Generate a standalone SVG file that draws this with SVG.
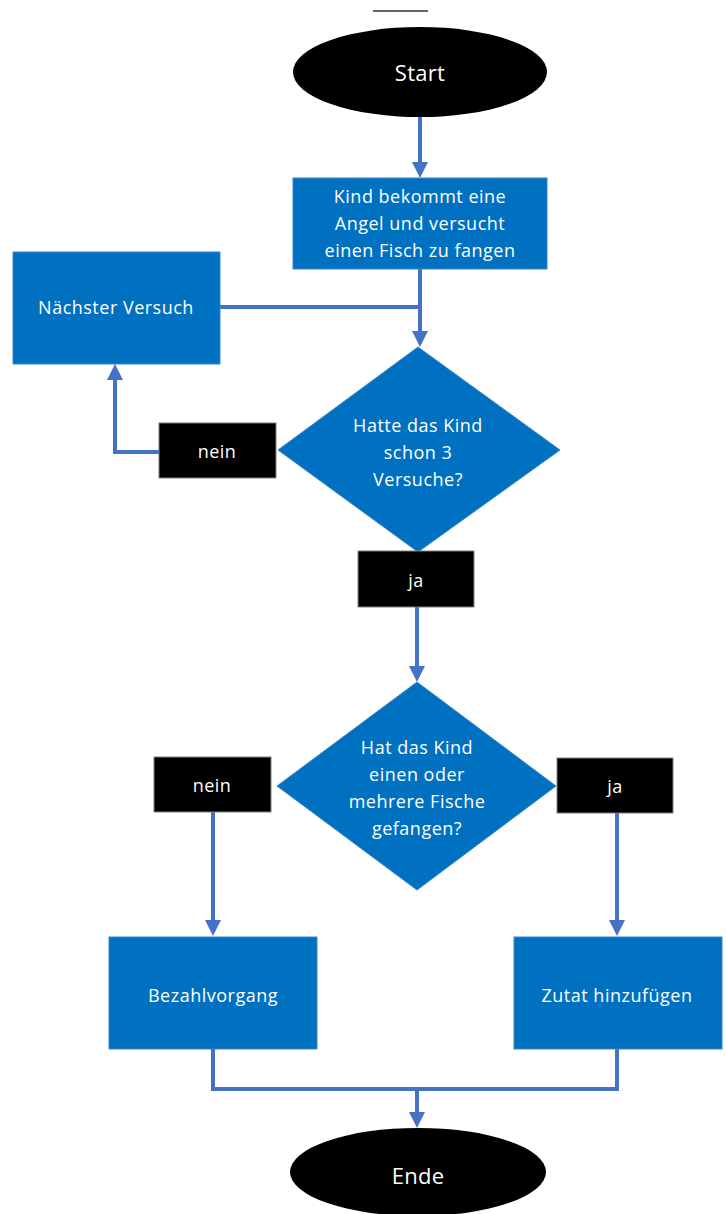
<svg xmlns="http://www.w3.org/2000/svg" width="726" height="1214" viewBox="0 0 726 1214">
<defs>
<style>
.t{font-family:"Open Sans","Noto Sans","Liberation Sans",sans-serif;font-size:18px;letter-spacing:0.5px;fill:#ffffff;text-anchor:middle;dominant-baseline:central}
.big{font-size:22px;letter-spacing:0.3px}
.proc{fill:#0070C0;stroke:#3a86cc;stroke-width:1}
.lab{fill:#000000;stroke:#7f7f7f;stroke-width:1}
.term{fill:#000000}
.c{fill:none;stroke:#4472C4;stroke-width:4}
</style>
<marker id="ah" markerWidth="4" markerHeight="4" refX="3" refY="2" orient="auto" markerUnits="strokeWidth" viewBox="0 0 4 4">
<path d="M0,0 L4,2 L0,4 Z" fill="#4472C4"/>
</marker>
</defs>
<rect width="726" height="1214" fill="#ffffff"/>
<line x1="373" y1="11" x2="428" y2="11" stroke="#333333" stroke-width="1.5"/>
<g id="connectors">
<path class="c" d="M420,117 V174" marker-end="url(#ah)"/>
<path class="c" d="M420,269 V343" marker-end="url(#ah)"/>
<path class="c" d="M220,307 H420"/>
<path class="c" d="M159,452 H115 V368" marker-end="url(#ah)"/>
<path class="c" d="M417,607 V678" marker-end="url(#ah)"/>
<path class="c" d="M213,812 V932" marker-end="url(#ah)"/>
<path class="c" d="M617,813 V932" marker-end="url(#ah)"/>
<path class="c" d="M213,1049 V1089 H617 V1049"/>
<path class="c" d="M417,1089 V1124" marker-end="url(#ah)"/>
</g>
<g id="start"><ellipse class="term" cx="420" cy="72" rx="127" ry="45"/><text class="t big" x="420" y="72">Start</text></g>
<g id="kind"><rect class="proc" x="293" y="178" width="254" height="91"/>
<text class="t" x="420" y="196">Kind bekommt eine</text><text class="t" x="420" y="223">Angel und versucht</text><text class="t" x="420" y="250">einen Fisch zu fangen</text></g>
<g id="naechster"><rect class="proc" x="13" y="252" width="207" height="112"/><text class="t" x="116" y="307">Nächster Versuch</text></g>
<g id="frage1"><polygon class="proc" points="418,347 560,450 418,552 278,450"/>
<text class="t" x="418" y="425">Hatte das Kind</text><text class="t" x="418" y="452">schon 3</text><text class="t" x="418" y="479">Versuche?</text></g>
<g id="nein1"><rect class="lab" x="159" y="423" width="117" height="55"/><text class="t" x="217" y="451">nein</text></g>
<g id="ja1"><rect class="lab" x="358" y="551" width="116" height="56"/><text class="t" x="416" y="580">ja</text></g>
<g id="frage2"><polygon class="proc" points="417,682 556,786 417,890 277,786"/>
<text class="t" x="417" y="747">Hat das Kind</text><text class="t" x="417" y="774">einen oder</text><text class="t" x="417" y="801">mehrere Fische</text><text class="t" x="417" y="828">gefangen?</text></g>
<g id="nein2"><rect class="lab" x="154" y="757" width="117" height="55"/><text class="t" x="212" y="785">nein</text></g>
<g id="ja2"><rect class="lab" x="557" y="758" width="116" height="55"/><text class="t" x="615" y="786">ja</text></g>
<g id="bezahl"><rect class="proc" x="109" y="937" width="208" height="112"/><text class="t" x="213" y="995">Bezahlvorgang</text></g>
<g id="zutat"><rect class="proc" x="514" y="937" width="208" height="112"/><text class="t" x="617" y="995">Zutat hinzufügen</text></g>
<g id="ende"><ellipse class="term" cx="418" cy="1172" rx="128" ry="44"/><text class="t big" x="418" y="1175">Ende</text></g>
</svg>
